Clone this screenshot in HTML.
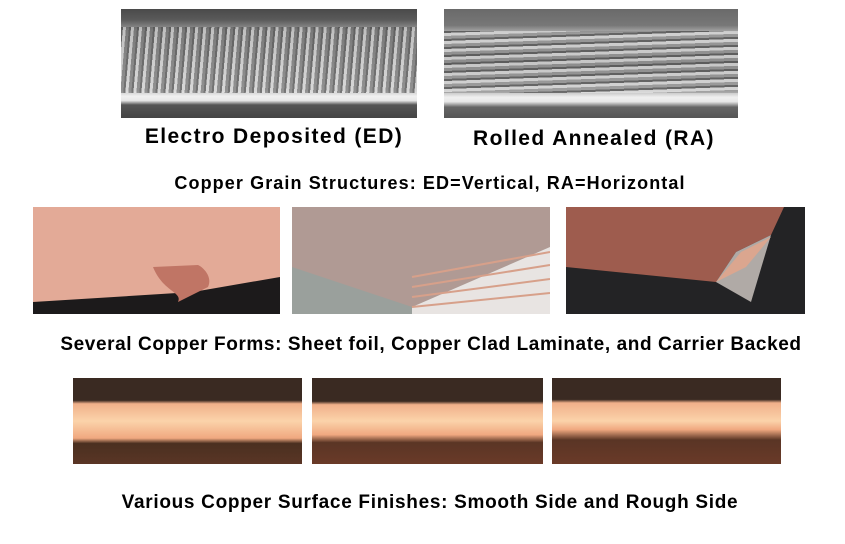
<!DOCTYPE html>
<html><head><meta charset="utf-8"><style>
body{margin:0;width:845px;height:544px;background:#fff;position:relative;overflow:hidden;font-family:"Liberation Sans",Arial,sans-serif;font-weight:bold;color:#000}
.a{position:absolute}
.t{position:absolute;white-space:nowrap;text-align:center}
</style></head><body>
<!-- ED micrograph -->
<div class="a" style="left:121px;top:9px;width:296px;height:109px;background:linear-gradient(#4a4a4a 0,#5a5a5a 10%,#9a9a9a 20%,#b5b5b5 50%,#c8c8c8 75%,#f0f0f0 80%,#e8e8e8 84%,#555 88%,#444 100%)">
<div class="a" style="left:0;top:18px;width:296px;height:66px;background:repeating-linear-gradient(95deg,rgba(60,60,60,.6) 0 2px,rgba(230,230,230,.5) 2px 5px,rgba(90,90,90,.5) 5px 8px)"></div></div>
<!-- RA micrograph -->
<div class="a" style="left:444px;top:9px;width:294px;height:109px;background:linear-gradient(#6a6a6a 0,#777 15%,#b0b0b0 22%,#9a9a9a 50%,#b8b8b8 75%,#f0f0f0 81%,#e8e8e8 85%,#666 90%,#555 100%)">
<div class="a" style="left:0;top:22px;width:294px;height:62px;background:repeating-linear-gradient(178deg,rgba(50,50,50,.6) 0 2px,rgba(235,235,235,.55) 2px 5px,rgba(120,120,120,.4) 5px 8px)"></div></div>
<div class="t" style="left:121px;width:306px;top:125px;font-size:21px;letter-spacing:1.4px">Electro Deposited (ED)</div>
<div class="t" style="left:444px;width:300px;top:127px;font-size:21px;letter-spacing:1.4px">Rolled Annealed (RA)</div>
<div class="t" style="left:0;width:860px;top:173px;font-size:18px;letter-spacing:1.1px">Copper Grain Structures: ED=Vertical, RA=Horizontal</div>
<!-- row2 -->
<svg class="a" style="left:33px;top:207px" width="247" height="107"><rect width="247" height="107" fill="#1c1a1b"/><polygon points="0,0 247,0 247,70 160,85 0,95" fill="#e3aa97"/><path d="M120,60 C130,85 150,85 145,95 L175,80 C180,70 170,60 165,58" fill="#c07565"/></svg>
<svg class="a" style="left:292px;top:207px" width="258" height="107"><rect width="258" height="107" fill="#9aa09c"/><polygon points="0,0 258,0 258,40 120,100 0,60" fill="#b09a94"/><polygon points="120,100 258,40 258,107 120,107" fill="#e8e4e2"/><g stroke="#d7a08a" stroke-width="2"><line x1="120" y1="70" x2="258" y2="45"/><line x1="120" y1="80" x2="258" y2="58"/><line x1="120" y1="90" x2="258" y2="72"/><line x1="120" y1="100" x2="258" y2="86"/></g></svg>
<svg class="a" style="left:566px;top:207px" width="239" height="107"><rect width="239" height="107" fill="#232325"/><polygon points="0,0 218,0 205,28 170,45 150,75 0,60" fill="#9e5c4e"/><polygon points="150,75 170,45 205,28 185,95" fill="#b0aaa6"/><polygon points="150,75 175,45 205,30 180,60" fill="#dba68f"/></svg>
<div class="t" style="left:0;width:862px;top:334px;font-size:19px;letter-spacing:0.6px">Several Copper Forms: Sheet foil, Copper Clad Laminate, and Carrier Backed</div>
<!-- row3 -->
<div class="a" style="left:73px;top:378px;width:229px;height:86px;background:linear-gradient(#3a2a22 0,#3a2a22 26%,#f0b08a 30%,#fbd3aa 50%,#f0a880 70%,#4a3020 76%,#5a3525 100%)"></div>
<div class="a" style="left:312px;top:378px;width:231px;height:86px;background:linear-gradient(#3a2a22 0,#3a2a22 27%,#f0b08a 31%,#fbd3aa 50%,#f0a880 66%,#5a3525 75%,#6a3a28 100%)"></div>
<div class="a" style="left:552px;top:378px;width:229px;height:86px;background:linear-gradient(#3a2a22 0,#3a2a22 25%,#f0b08a 29%,#fbd3aa 50%,#f0a880 60%,#5a3525 72%,#6a3a28 100%)"></div>
<div class="t" style="left:0;width:860px;top:492px;font-size:19px;letter-spacing:0.7px">Various Copper Surface Finishes: Smooth Side and Rough Side</div>
</body></html>
